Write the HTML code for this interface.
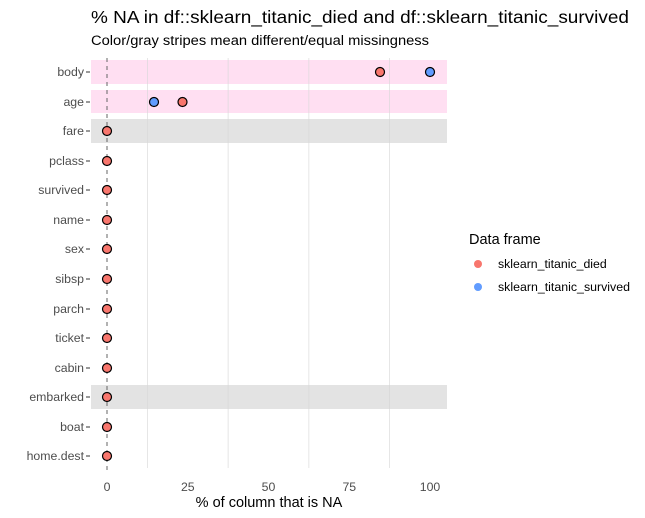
<!DOCTYPE html>
<html><head><meta charset="utf-8"><style>
html,body{margin:0;padding:0;background:#fff;}
svg{display:block;font-family:"Liberation Sans",Arial,sans-serif;}
</style></head><body>
<svg width="645" height="518" viewBox="0 0 645 518">
<rect width="645" height="518" fill="#fff"/>
<text x="91" y="23" font-size="17.6" fill="#000" textLength="538" lengthAdjust="spacingAndGlyphs">% NA in df::sklearn_titanic_died and df::sklearn_titanic_survived</text>
<text x="91" y="45" font-size="14.2" fill="#000" textLength="338" lengthAdjust="spacingAndGlyphs">Color/gray stripes mean different/equal missingness</text>
<rect x="91" y="60" width="356" height="24" fill="#ffdff2"/>
<rect x="91" y="90" width="356" height="23" fill="#ffdff2"/>
<rect x="91" y="119" width="356" height="24" fill="#e3e3e3"/>
<rect x="91" y="385" width="356" height="24" fill="#e3e3e3"/>
<g stroke="#d6d6d6" stroke-width="0.6">
<line x1="147.4" y1="58" x2="147.4" y2="468"/>
<line x1="228.1" y1="58" x2="228.1" y2="468"/>
<line x1="308.9" y1="58" x2="308.9" y2="468"/>
<line x1="389.6" y1="58" x2="389.6" y2="468"/>
</g>
<line x1="107" y1="58" x2="107" y2="470" stroke="#666" stroke-width="1" stroke-dasharray="4,4"/>
<g font-size="12.3" fill="#4d4d4d" text-anchor="end">
<text x="84" y="76">body</text>
<text x="84" y="106">age</text>
<text x="84" y="135">fare</text>
<text x="84" y="165">pclass</text>
<text x="84" y="194">survived</text>
<text x="84" y="224">name</text>
<text x="84" y="253">sex</text>
<text x="84" y="283">sibsp</text>
<text x="84" y="313">parch</text>
<text x="84" y="342">ticket</text>
<text x="84" y="372">cabin</text>
<text x="84" y="401">embarked</text>
<text x="84" y="431">boat</text>
<text x="84" y="460">home.dest</text>
</g>
<g stroke="#333" stroke-width="1">
<line x1="86" x2="90" y1="72" y2="72"/><line x1="86" x2="90" y1="102" y2="102"/>
<line x1="86" x2="90" y1="131" y2="131"/><line x1="86" x2="90" y1="161" y2="161"/>
<line x1="86" x2="90" y1="190" y2="190"/><line x1="86" x2="90" y1="220" y2="220"/>
<line x1="86" x2="90" y1="249" y2="249"/><line x1="86" x2="90" y1="279" y2="279"/>
<line x1="86" x2="90" y1="309" y2="309"/><line x1="86" x2="90" y1="338" y2="338"/>
<line x1="86" x2="90" y1="368" y2="368"/><line x1="86" x2="90" y1="397" y2="397"/>
<line x1="86" x2="90" y1="427" y2="427"/><line x1="86" x2="90" y1="456" y2="456"/>
</g>
<g stroke="#000" stroke-width="1.2">
<circle cx="380" cy="72" r="4.5" fill="#f8766d"/>
<circle cx="430" cy="72" r="4.5" fill="#619cff"/>
<circle cx="154" cy="102" r="4.5" fill="#619cff"/>
<circle cx="182.5" cy="102" r="4.5" fill="#f8766d"/>
<g fill="#f8766d">
<circle cx="107" cy="131" r="4.5"/><circle cx="107" cy="161" r="4.5"/>
<circle cx="107" cy="190" r="4.5"/><circle cx="107" cy="220" r="4.5"/>
<circle cx="107" cy="249" r="4.5"/><circle cx="107" cy="279" r="4.5"/>
<circle cx="107" cy="309" r="4.5"/><circle cx="107" cy="338" r="4.5"/>
<circle cx="107" cy="368" r="4.5"/><circle cx="107" cy="397" r="4.5"/>
<circle cx="107" cy="427" r="4.5"/><circle cx="107" cy="456" r="4.5"/>
</g>
</g>
<g font-size="12.3" fill="#4d4d4d" text-anchor="middle">
<text x="107" y="491">0</text>
<text x="187.8" y="491">25</text>
<text x="268.5" y="491">50</text>
<text x="349.3" y="491">75</text>
<text x="430" y="491">100</text>
</g>
<text x="269" y="507" font-size="14.5" fill="#000" text-anchor="middle">% of column that is NA</text>
<text x="469" y="244" font-size="14.5" fill="#000">Data frame</text>
<circle cx="478" cy="264" r="4" fill="#f8766d"/>
<circle cx="478" cy="287" r="4" fill="#619cff"/>
<text x="498" y="268" font-size="12.3" fill="#000">sklearn_titanic_died</text>
<text x="498" y="291" font-size="12.3" fill="#000" textLength="132" lengthAdjust="spacingAndGlyphs">sklearn_titanic_survived</text>
</svg>
</body></html>
